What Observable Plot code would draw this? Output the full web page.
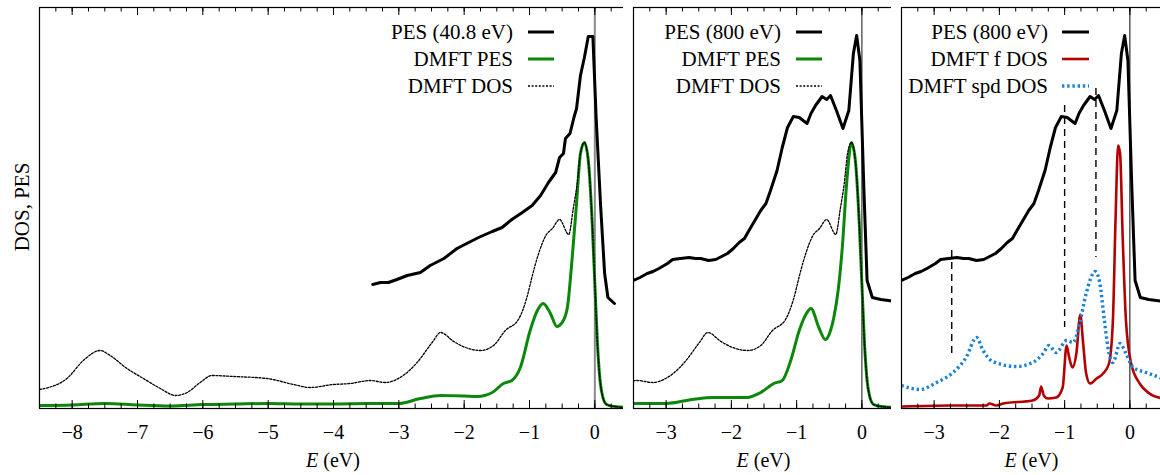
<!DOCTYPE html>
<html><head><meta charset="utf-8">
<script src="https://cdn.jsdelivr.net/npm/d3@7"></script>
<script src="https://cdn.jsdelivr.net/npm/@observablehq/plot@0.6"></script>
<style>
body{margin:0;background:#fff;overflow:hidden;}
#wrap{position:relative;width:1160px;height:475px;overflow:hidden;background:#fff;}
.panel{position:absolute;top:0;}
.panel svg{max-width:none !important;}
</style></head><body><div id="wrap"></div>
<script>
// ---- data: [E (eV), intensity (arb. units)] ----
const pes40 = [[-3.40,1.24],[-3.28,1.26],[-3.16,1.26],[-3.03,1.29],[-2.87,1.33],[-2.67,1.36],[-2.52,1.43],[-2.31,1.50],[-2.11,1.60],[-1.96,1.65],[-1.78,1.71],[-1.57,1.77],[-1.42,1.81],[-1.27,1.89],[-1.11,1.96],[-0.96,2.03],[-0.83,2.13],[-0.71,2.26],[-0.60,2.36],[-0.54,2.51],[-0.48,2.55],[-0.45,2.70],[-0.38,2.75],[-0.32,2.91],[-0.28,3.00],[-0.22,3.33],[-0.16,3.51],[-0.10,3.72],[-0.03,3.72],[0.02,2.91],[0.09,2.01],[0.15,1.35],[0.20,1.11],[0.30,1.05]];

const pes800 = [[-3.50,1.28],[-3.40,1.31],[-3.29,1.35],[-3.20,1.37],[-3.11,1.40],[-2.98,1.45],[-2.90,1.49],[-2.78,1.50],[-2.65,1.51],[-2.55,1.50],[-2.47,1.50],[-2.35,1.48],[-2.24,1.49],[-2.15,1.52],[-2.06,1.55],[-1.97,1.60],[-1.88,1.66],[-1.80,1.70],[-1.73,1.78],[-1.64,1.88],[-1.55,1.98],[-1.47,2.05],[-1.40,2.18],[-1.30,2.38],[-1.22,2.61],[-1.14,2.81],[-1.05,2.92],[-0.96,2.91],[-0.84,2.85],[-0.78,2.95],[-0.71,3.03],[-0.61,3.12],[-0.54,3.09],[-0.48,3.13],[-0.39,2.98],[-0.29,2.80],[-0.20,2.98],[-0.13,3.55],[-0.08,3.73],[-0.03,3.48],[0.03,2.21],[0.08,1.28],[0.16,1.11],[0.29,1.09],[0.52,1.07]];

const dmftDos = [[-8.50,0.19],[-8.08,0.30],[-7.83,0.48],[-7.57,0.58],[-7.42,0.53],[-7.16,0.40],[-6.91,0.30],[-6.65,0.20],[-6.42,0.13],[-6.24,0.16],[-6.04,0.26],[-5.86,0.33],[-5.53,0.32],[-5.02,0.30],[-4.61,0.24],[-4.36,0.21],[-4.00,0.24],[-3.75,0.25],[-3.44,0.28],[-3.21,0.26],[-2.98,0.31],[-2.72,0.46],[-2.49,0.66],[-2.36,0.76],[-2.16,0.67],[-1.98,0.61],[-1.75,0.58],[-1.55,0.63],[-1.37,0.78],[-1.17,0.89],[-1.04,1.11],[-0.96,1.32],[-0.86,1.55],[-0.75,1.73],[-0.65,1.80],[-0.54,1.89],[-0.40,1.74],[-0.33,2.00],[-0.27,2.25],[-0.22,2.55],[-0.16,2.66],[-0.10,2.48],[-0.04,1.85],[0.00,1.25],[0.04,0.65],[0.08,0.28],[0.12,0.12],[0.18,0.04],[0.30,0.02],[0.50,0.01]];

const dmftPes40 = [[-8.50,0.03],[-8.00,0.035],[-7.50,0.05],[-7.00,0.035],[-6.50,0.025],[-6.00,0.04],[-5.50,0.045],[-5.00,0.05],[-4.50,0.045],[-4.00,0.045],[-3.50,0.05],[-3.00,0.05],[-2.67,0.10],[-2.36,0.13],[-2.00,0.125],[-1.80,0.12],[-1.57,0.16],[-1.40,0.25],[-1.27,0.28],[-1.14,0.41],[-0.99,0.78],[-0.88,0.98],[-0.79,1.05],[-0.68,0.95],[-0.58,0.82],[-0.50,0.86],[-0.42,1.01],[-0.35,1.48],[-0.28,2.05],[-0.22,2.55],[-0.16,2.66],[-0.10,2.48],[-0.04,1.85],[0.00,1.25],[0.04,0.65],[0.08,0.28],[0.12,0.12],[0.18,0.04],[0.30,0.02],[0.50,0.01]];

const dmftPes800 = [[-3.50,0.05],[-3.00,0.05],[-2.60,0.09],[-2.27,0.11],[-1.76,0.11],[-1.55,0.16],[-1.35,0.25],[-1.22,0.28],[-1.09,0.48],[-0.96,0.78],[-0.85,0.95],[-0.78,1.00],[-0.66,0.81],[-0.56,0.69],[-0.48,0.78],[-0.43,0.91],[-0.36,1.20],[-0.30,1.61],[-0.23,2.28],[-0.16,2.66],[-0.10,2.48],[-0.04,1.85],[0.00,1.25],[0.04,0.65],[0.08,0.28],[0.12,0.12],[0.18,0.04],[0.30,0.02],[0.50,0.01]];

const fDos = [[-3.48,0.02],[-2.76,0.03],[-2.20,0.03],[-2.15,0.05],[-2.05,0.03],[-1.94,0.05],[-1.49,0.08],[-1.39,0.13],[-1.36,0.22],[-1.32,0.13],[-1.26,0.10],[-1.13,0.11],[-1.03,0.21],[-0.97,0.63],[-0.93,0.51],[-0.88,0.41],[-0.82,0.55],[-0.76,0.94],[-0.72,0.68],[-0.67,0.35],[-0.61,0.25],[-0.51,0.30],[-0.41,0.35],[-0.32,0.45],[-0.26,0.88],[-0.22,1.88],[-0.18,2.63],[-0.15,2.55],[-0.11,1.71],[-0.06,0.88],[0.02,0.45],[0.15,0.25],[0.30,0.15],[0.50,0.10]];

const spdDos = [[-3.50,0.23],[-3.22,0.19],[-2.96,0.26],[-2.71,0.36],[-2.51,0.51],[-2.35,0.71],[-2.25,0.58],[-2.10,0.47],[-1.74,0.42],[-1.49,0.46],[-1.33,0.55],[-1.24,0.63],[-1.13,0.56],[-0.97,0.68],[-0.87,0.66],[-0.77,0.85],[-0.67,1.15],[-0.53,1.37],[-0.46,1.25],[-0.39,0.88],[-0.32,0.55],[-0.26,0.46],[-0.15,0.65],[-0.06,0.55],[0.05,0.41],[0.25,0.36],[0.50,0.30]];

// dashed guide lines in the right panel: energy, upper and lower intensity
const guideE = [-2.73, -1.00, -0.52];
const guideTop = [1.58, 3.03, 3.20];
const guideBottom = [0.55, 0.81, 1.51];

const ticks1 = [-8, -7, -6, -5, -4, -3, -2, -1, 0];
const ticks23 = [-3, -2, -1, 0];
const yLabel = "DOS, PES";
const legend1 = ["PES (40.8 eV)", "DMFT PES", "DMFT DOS"];
const legend2 = ["PES (800 eV)", "DMFT PES", "DMFT DOS"];
const legend3 = ["PES (800 eV)", "DMFT f DOS", "DMFT spd DOS"];

// ---- styling ----
const FONT = "Liberation Serif, DejaVu Serif, serif";
const H = 475, MT = 7, MB = 67, FH = H - MT - MB;
const GREEN = "#0b870b", RED = "#b30000", BLUE = "#1b82d9";
const sPES = {stroke: "black", strokeWidth: 3, strokeLinejoin: "round", strokeLinecap: "round"};
const sGreen = {stroke: GREEN, strokeWidth: 3, curve: "monotone-x"};
const sDos = {stroke: "black", strokeWidth: 1.3, strokeDasharray: "2,1.6", curve: "monotone-x"};
const sRed = {stroke: RED, strokeWidth: 2.6, strokeLinejoin: "round", curve: "monotone-x"};
const sBlue = {stroke: BLUE, strokeWidth: 3.4, strokeDasharray: "2.4,2.8", strokeLinecap: "butt", curve: "monotone-x"};

const fmt = d => d < 0 ? "\u2212" + (-d) : String(d);
const xy = {x: d => d[0], y: d => d[1], clip: true};

function makePanel(cfg) {
  const minor = d3.range(cfg.domain[0], cfg.domain[1] + 1e-9, 0.25);
  const el = Plot.plot({
    width: cfg.width, height: H,
    marginLeft: cfg.mL, marginRight: cfg.mR, marginTop: MT, marginBottom: MB,
    style: {fontFamily: FONT, fontSize: "20px", background: "white", color: "black", overflow: "visible", maxWidth: "none"},
    x: {domain: cfg.domain},
    y: {domain: [0, 4.01], axis: null},
    marks: [
      Plot.ruleX([0], {stroke: cfg.zeroStroke, strokeWidth: cfg.zeroWidth}),
      ...cfg.lines.map(([data, s]) => Plot.line(data, {...xy, ...s})),
      ...(cfg.guides ? [Plot.ruleX(cfg.guides, {x: "E", y1: "y1", y2: "y2", stroke: "black", strokeWidth: 1.4, strokeDasharray: "7,5"})] : []),
      Plot.ruleX(minor, {insetTop: FH - 4.5, stroke: "black"}),
      Plot.ruleX(minor, {insetBottom: FH - 4.5, stroke: "black"}),
      Plot.ruleX(cfg.major, {insetTop: FH - 8, stroke: "black"}),
      Plot.ruleX(cfg.major, {insetBottom: FH - 8, stroke: "black"}),
      Plot.frame({stroke: "black", strokeWidth: 1.2}),
      Plot.axisX(cfg.major, {tickSize: 0, tickPadding: 16, tickFormat: fmt, fontSize: 20, label: null})
    ]
  });
  el.style.maxWidth = "none";
  el.style.fontFamily = FONT;
  const svg = d3.select(el);
  svg.selectAll("text").attr("font-family", FONT);
  // legend
  cfg.legend.forEach((lab, i) => {
    const yc = 32 + i * 27;
    svg.append("text").attr("x", cfg.legX).attr("y", yc + 7).attr("text-anchor", "end")
      .attr("font-family", FONT).attr("font-size", 21).attr("fill", "black").text(lab);
    const s = cfg.legStyles[i];
    svg.append("line").attr("x1", cfg.legL1).attr("x2", cfg.legL2).attr("y1", yc).attr("y2", yc)
      .attr("stroke", s.stroke).attr("stroke-width", s.strokeWidth)
      .attr("stroke-dasharray", s.strokeDasharray || null);
  });
  // x-axis label
  const t = svg.append("text").attr("x", cfg.mL + (cfg.width - cfg.mL - cfg.mR) / 2).attr("y", 467)
    .attr("text-anchor", "middle").attr("font-family", FONT).attr("font-size", 20).attr("fill", "black");
  t.append("tspan").attr("font-style", "italic").text("E");
  t.append("tspan").text(" (eV)");
  if (cfg.yLabel) {
    svg.append("text").attr("transform", "translate(29,207) rotate(-90)").attr("text-anchor", "middle")
      .attr("font-family", FONT).attr("font-size", 21).attr("fill", "black").text(cfg.yLabel);
  }
  const div = document.createElement("div");
  div.className = "panel";
  div.style.left = cfg.left + "px";
  div.style.width = cfg.width + "px";
  div.appendChild(el);
  document.getElementById("wrap").appendChild(div);
}

const guides = guideE.map((E, i) => ({E, y1: guideTop[i], y2: guideBottom[i]}));

makePanel({left: 0, width: 640, mL: 39, mR: 13, domain: [-8.5, 0.5], major: ticks1,
  zeroStroke: "#8a8a8a", zeroWidth: 2,
  lines: [[dmftPes40, sGreen], [dmftDos, sDos], [pes40, sPES]],
  legend: legend1, legStyles: [sPES, sGreen, sDos], legX: 513, legL1: 528, legL2: 554, yLabel});

makePanel({left: 623, width: 281, mL: 10, mR: 10, domain: [-3.5, 0.5], major: ticks23,
  zeroStroke: "#555", zeroWidth: 1.4,
  lines: [[dmftPes800, sGreen], [dmftDos, sDos], [pes800, sPES]],
  legend: legend2, legStyles: [sPES, sGreen, sDos], legX: 158, legL1: 173, legL2: 199});

makePanel({left: 891, width: 281, mL: 10, mR: 10, domain: [-3.5, 0.5], major: ticks23,
  zeroStroke: "black", zeroWidth: 1,
  lines: [[fDos, sRed], [spdDos, sBlue], [pes800, sPES]], guides,
  legend: legend3, legStyles: [sPES, sRed, sBlue], legX: 157, legL1: 171, legL2: 198});
</script>
</body></html>
